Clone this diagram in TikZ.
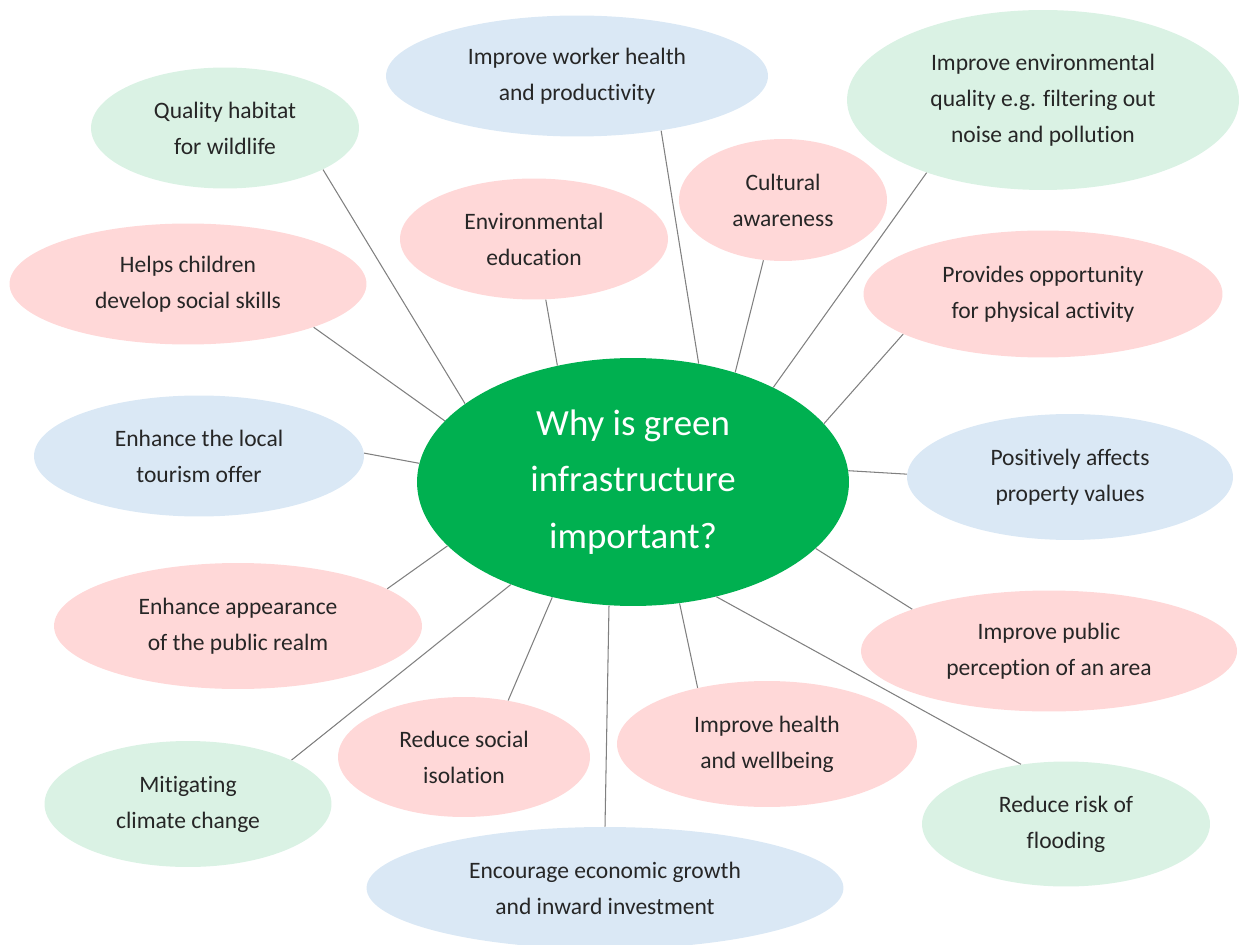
\documentclass[tikz,border=0pt]{standalone}
\usepackage{fontspec}
\setmainfont{Carlito}[Ligatures=NoCommon]
\usetikzlibrary{shapes.geometric}
\definecolor{hubgreen}{HTML}{00B050}
\definecolor{softpink}{HTML}{FFD8D8}
\definecolor{softblue}{HTML}{DAE8F5}
\definecolor{softgreen}{HTML}{DAF2E4}
\definecolor{inktext}{HTML}{262626}
\definecolor{linkgray}{HTML}{808080}
\tikzset{
	bubble/.style={ellipse, inner sep=0pt, align=center, text=inktext, font=\fontsize{13.4}{20.4}\selectfont},
	pinkbubble/.style={bubble, fill=softpink},
	bluebubble/.style={bubble, fill=softblue},
	greenbubble/.style={bubble, fill=softgreen},
	hub/.style={ellipse, inner sep=0pt, align=center, fill=hubgreen, text=white, font=\fontsize{21}{32.3}\selectfont},
	link/.style={draw=linkgray, line width=0.6pt}
}

\begin{document}
\begin{tikzpicture}[x=0.02cm, y=0.02cm]
			%%%%% START %%%%%
			
			\useasboundingbox (0, 0) rectangle (1239, -945);
			
			\node[hub, minimum width=8.64cm, minimum height=4.96cm] (why) at (633, -482) {Why is green\\infrastructure\\important?};
			
			\node[greenbubble, minimum width=5.36cm, minimum height=2.42cm] (wild) at (225, -128) {Quality habitat\\for wildlife};
			\node[bluebubble, minimum width=7.64cm, minimum height=2.42cm] (worker) at (577, -76) {Improve worker health\\and productivity};
			\node[greenbubble, minimum width=7.84cm, minimum height=3.6cm] (envq) at (1043, -100) {Improve environmental\\quality e.g. filtering out\\noise and pollution};
			\node[pinkbubble, minimum width=5.36cm, minimum height=2.42cm] (edu) at (534, -239) {Environmental\\education};
			\node[pinkbubble, minimum width=4.16cm, minimum height=2.44cm] (cult) at (783, -200) {Cultural\\awareness};
			\node[pinkbubble, minimum width=7.14cm, minimum height=2.42cm] (kids) at (188, -284) {Helps children\\develop social skills};
			\node[pinkbubble, minimum width=7.18cm, minimum height=2.54cm] (phys) at (1043, -294) {Provides opportunity\\for physical activity};
			\node[bluebubble, minimum width=6.6cm, minimum height=2.42cm] (tour) at (199, -456) {Enhance the local\\tourism offer};
			\node[bluebubble, minimum width=6.52cm, minimum height=2.52cm] (prop) at (1070, -477) {Positively affects\\property values};
			\node[pinkbubble, minimum width=7.36cm, minimum height=2.52cm] (look) at (238, -626) {Enhance appearance\\of the public realm};
			\node[pinkbubble, minimum width=7.52cm, minimum height=2.42cm] (percep) at (1049, -651) {Improve public\\perception of an area};
			\node[pinkbubble, minimum width=5.04cm, minimum height=2.4cm] (isol) at (464, -757) {Reduce social\\isolation};
			\node[pinkbubble, minimum width=6.0cm, minimum height=2.52cm] (health) at (767, -744) {Improve health\\and wellbeing};
			\node[greenbubble, minimum width=5.74cm, minimum height=2.52cm] (climate) at (188, -804) {Mitigating\\climate change};
			\node[greenbubble, minimum width=5.76cm, minimum height=2.5cm] (flood) at (1066, -824) {Reduce risk of\\flooding};
			\node[bluebubble, minimum width=9.54cm, minimum height=2.44cm] (econ) at (605, -888) {Encourage economic growth\\and inward investment};
			
			\draw[link] (why.155) -- (wild.-23);
			\draw[link] (why.61) -- (worker.-33);
			\draw[link] (why.34) -- (envq.-148);
			\draw[link] (why.123) -- (edu.-79);
			\draw[link] (why.47) -- (cult.-108);
			\draw[link] (why.162) -- (kids.-19);
			\draw[link] (why.17) -- (phys.-164);
			\draw[link] (why.175) -- (tour.1);
			\draw[link] (why.3) -- (prop.179);
			\draw[link] (why.199) -- (look.14);
			\draw[link] (why.-20) -- (percep.163);
			\draw[link] (why.-125) -- (isol.52);
			\draw[link] (why.-69) -- (health.141);
			\draw[link] (why.-140) -- (climate.23);
			\draw[link] (why.-54) -- (flood.127);
			\draw[link] (why.-101) -- (econ.90);
			
			%%%%% END %%%%%
		\end{tikzpicture}
\end{document}
